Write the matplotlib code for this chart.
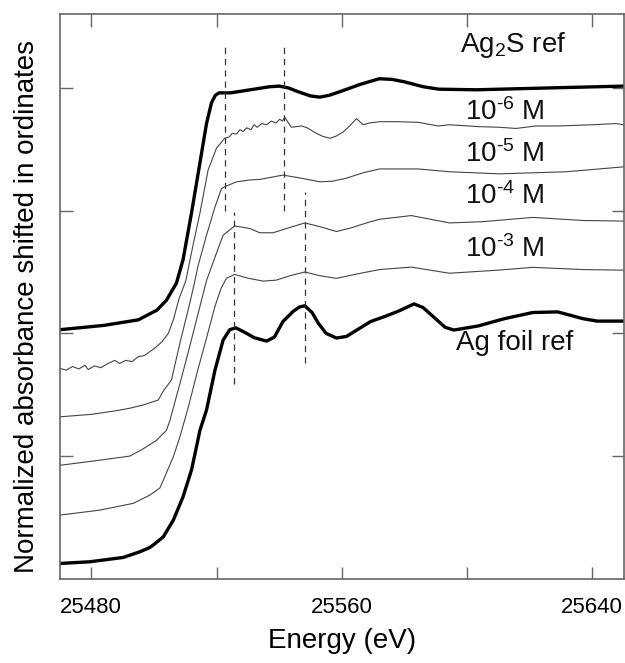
#XANES spectra Ag K-edge, curves shifted in ordinates

import matplotlib
matplotlib.use('Agg')
import matplotlib.pyplot as plt

# Ag2S reference
ag2s_e = [25470, 25484, 25495, 25501, 25504, 25507.2, 25509.3, 25512, 25514.7, 25516.8, 25518.4,
          25519.6, 25520.8, 25524.5, 25532, 25537, 25540, 25543, 25546, 25550, 25553, 25556,
          25560, 25566, 25572, 25576, 25580, 25586, 25591, 25603, 25626, 25650]
ag2s_a = [2.03, 2.065, 2.11, 2.19, 2.27, 2.41, 2.60, 2.98, 3.39, 3.71, 3.88,
          3.94, 3.96, 3.96, 3.99, 4.01, 4.015, 4.0, 3.97, 3.935, 3.925, 3.94,
          3.975, 4.03, 4.075, 4.07, 4.05, 4.01, 3.99, 3.985, 4.0, 4.015]

# 10^-6 M
m6_e = [25470, 25472, 25474, 25476, 25478, 25479, 25481, 25483, 25485, 25487.5, 25489, 25491,
        25493, 25495, 25497, 25500.3, 25502.5, 25504.6, 25506.2, 25508, 25510.2, 25512.5, 25514.7,
        25517.3, 25520, 25522.6, 25524, 25525, 25526.4, 25527.5, 25528.5, 25529.6, 25531, 25532,
        25533, 25534.5, 25536, 25537.5, 25539, 25540.2, 25541, 25541.8, 25543.9, 25547.1, 25549,
        25551.9, 25554, 25556.2, 25558, 25560.4, 25562.5, 25564.7, 25566.8, 25569, 25572.1, 25578,
        25584.4, 25590.8, 25594.4, 25603.5, 25610, 25615.7, 25622, 25629, 25640, 25647.6, 25650]
m6_a = [1.715, 1.70, 1.73, 1.71, 1.74, 1.705, 1.735, 1.72, 1.75, 1.78, 1.755, 1.78,
        1.77, 1.81, 1.82, 1.88, 1.93, 2.0, 2.11, 2.28, 2.43, 2.72, 2.98,
        3.33, 3.51, 3.59, 3.60, 3.63, 3.625, 3.66, 3.645, 3.675, 3.66, 3.70,
        3.68, 3.71, 3.70, 3.73, 3.715, 3.745, 3.73, 3.76, 3.68, 3.69, 3.675,
        3.63, 3.605, 3.59, 3.605, 3.64, 3.69, 3.75, 3.70, 3.715, 3.725, 3.725,
        3.72, 3.69, 3.70, 3.685, 3.68, 3.67, 3.69, 3.69, 3.70, 3.71, 3.70]

# 10^-5 M
m5_e = [25470, 25480, 25488, 25492.3, 25497, 25501.4, 25503, 25505.6, 25508.3, 25511.5, 25513.1,
        25514.1, 25516.8, 25519.5, 25521.6, 25522.6, 25526.4, 25530.6, 25533.9, 25541.2, 25547,
        25553, 25557, 25561.5, 25567, 25572.1, 25584.4, 25594.4, 25610.4, 25631.7, 25650]
m5_a = [1.32, 1.34, 1.37, 1.39, 1.42, 1.457, 1.53, 1.62, 1.92, 2.25, 2.43,
        2.55, 2.80, 3.03, 3.18, 3.195, 3.235, 3.25, 3.255, 3.29, 3.265,
        3.235, 3.24, 3.265, 3.31, 3.34, 3.34, 3.317, 3.30, 3.317, 3.357]

# 10^-4 M
m4_e = [25470, 25482.8, 25492.3, 25496, 25500.9, 25504, 25505.1, 25508.3, 25511, 25514, 25516.8,
        25519.5, 25522.1, 25525.8, 25530.6, 25533.8, 25538.1, 25543, 25548.2, 25553, 25558.3,
        25563, 25567.9, 25572.1, 25582.2, 25594.4, 25605, 25621, 25637, 25650]
m4_a = [0.925, 0.967, 1.0, 1.05, 1.13, 1.21, 1.29, 1.59, 1.85, 2.15, 2.43,
        2.62, 2.80, 2.875, 2.855, 2.82, 2.82, 2.86, 2.90, 2.87, 2.83,
        2.86, 2.90, 2.93, 2.96, 2.90, 2.91, 2.945, 2.92, 2.915]

# 10^-3 M
m3_e = [25470, 25482.8, 25493.4, 25498.7, 25501.9, 25503, 25506.2, 25508.3, 25511, 25514, 25517,
        25519.5, 25521.5, 25523.2, 25525.8, 25530, 25534.9, 25539.1, 25543.5, 25548.2, 25553,
        25558.3, 25565, 25572.1, 25582.2, 25594.4, 25610.4, 25621, 25637, 25650]
m3_a = [0.519, 0.56, 0.615, 0.682, 0.74, 0.804, 0.994, 1.157, 1.40, 1.70, 1.98,
        2.22, 2.37, 2.45, 2.48, 2.45, 2.426, 2.434, 2.47, 2.50, 2.47,
        2.448, 2.485, 2.52, 2.54, 2.49, 2.516, 2.538, 2.52, 2.515]

# Ag foil reference
foil_e = [25470, 25479.6, 25490.2, 25495.5, 25498.7, 25500.5, 25503, 25506.2, 25509.3, 25512,
          25513.6, 25514.7, 25516.8, 25519.5, 25522.1, 25524.2, 25526.2, 25529.6, 25532, 25536,
          25538.5, 25541.2, 25544.5, 25546.5, 25548.2, 25550.5, 25552.6, 25555, 25558.3, 25561.5,
          25565, 25569.2, 25574, 25578, 25583.1, 25586, 25589.5, 25593, 25595.8, 25603.5, 25612,
          25621, 25629, 25637, 25641.6, 25650]
foil_a = [0.125, 0.139, 0.174, 0.22, 0.255, 0.29, 0.342, 0.478, 0.668, 0.886,
          1.076, 1.21, 1.375, 1.70, 1.945, 2.03, 2.045, 2.0, 1.965, 1.937,
          1.97, 2.096, 2.18, 2.215, 2.225, 2.17, 2.08, 2.0, 1.962, 1.975,
          2.03, 2.096, 2.14, 2.18, 2.24, 2.21, 2.13, 2.05, 2.027, 2.06, 2.12,
          2.17, 2.175, 2.12, 2.10, 2.10]

# dashed marker lines: energy, bottom, top
dash_e = [25522.6, 25541.6, 25525.5, 25548.2]
dash_lo = [3.0, 3.0, 1.59, 1.76]
dash_hi = [4.36, 4.36, 2.99, 3.15]

# curve labels
lab_txt = ['Ag$_2$S ref', '10$^{\\text{-6}}$ M', '10$^{\\text{-5}}$ M', '10$^{\\text{-4}}$ M',
           '10$^{\\text{-3}}$ M', 'Ag foil ref']
lab_e = [25614.7, 25612.1, 25612.1, 25612.1, 25612.1, 25615.3]
lab_a = [4.35, 3.80, 3.46, 3.12, 2.69, 1.92]

plt.rcParams['font.family'] = ['Liberation Sans', 'DejaVu Sans']
plt.rcParams['mathtext.fontset'] = 'custom'
plt.rcParams['mathtext.rm'] = 'Liberation Sans'
plt.rcParams['mathtext.it'] = 'Liberation Sans:italic'
plt.rcParams['mathtext.bf'] = 'Liberation Sans:bold'

fig = plt.figure(figsize=(6.25, 6.63), dpi=100)
ax = fig.add_axes([0.096, 0.127, 0.9016, 0.8514])

ax.plot(ag2s_e, ag2s_a, color='black', lw=2.4)
ax.plot(m6_e, m6_a, color='#444444', lw=0.8)
ax.plot(m5_e, m5_a, color='#444444', lw=0.8)
ax.plot(m4_e, m4_a, color='#444444', lw=0.8)
ax.plot(m3_e, m3_a, color='#444444', lw=0.8)
ax.plot(foil_e, foil_a, color='black', lw=2.4)

for i in range(len(dash_e)):
    ax.plot([dash_e[i], dash_e[i]], [dash_lo[i], dash_hi[i]], color='#333333', lw=0.9, ls=(0, (5, 4)))

for i in range(len(lab_txt)):
    ax.text(lab_e[i], lab_a[i], lab_txt[i], fontsize=20, ha='center', va='center', color='#111111')

ax.set_xlim(25470, 25650)
ax.set_ylim(0, 4.6)
ax.set_xticks([25480, 25520, 25560, 25600, 25640])
ax.set_xticklabels(['25480', '', '25560', '', '25640'])
ax.set_yticks([1, 2, 3, 4])
ax.set_yticklabels([])
ax.tick_params(direction='in', length=9, width=1, color='#666666', top=True, right=True,
               labelsize=16, pad=13)
for s in ax.spines.values():
    s.set_color('#666666')
    s.set_linewidth(1.2)

ax.set_xlabel('Energy (eV)', fontsize=20, labelpad=7)
ax.set_ylabel('Normalized absorbance shifted in ordinates', fontsize=20, labelpad=1.5, y=0.482)

plt.savefig('out.png', dpi=100)
